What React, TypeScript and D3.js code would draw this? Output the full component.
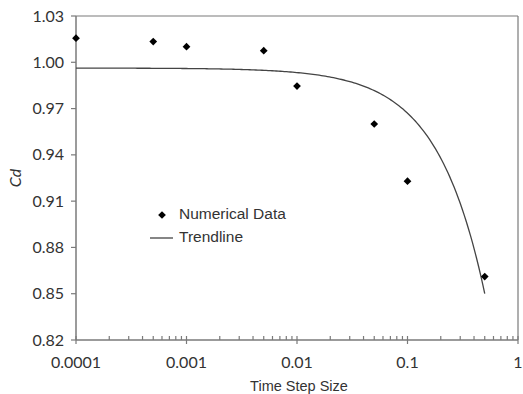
import React from "react";
import * as d3 from "d3";

const stepSizes = [0.0001, 0.0005, 0.001, 0.005, 0.01, 0.05, 0.1, 0.5];
const cdValues = [1.0156, 1.0134, 1.0101, 1.0075, 0.9846, 0.960, 0.9229, 0.8611];
const yTicks = [0.82, 0.85, 0.88, 0.91, 0.94, 0.97, 1.0, 1.03];
const xTicks = [0.0001, 0.001, 0.01, 0.1, 1];
const xTickLabels = ["0.0001", "0.001", "0.01", "0.1", "1"];
const legendLabels = ["Numerical Data", "Trendline"];

const W = 523, H = 394;
const M = { left: 76, right: 518, top: 16, bottom: 340 };

export default function App() {
  const x = d3.scaleLog().domain([0.0001, 1]).range([M.left, M.right]);
  const y = d3.scaleLinear().domain([0.82, 1.03]).range([M.bottom, M.top]);

  // linear least-squares trendline (Excel-style linear trend on linear x)
  const mx = d3.mean(stepSizes)!;
  const my = d3.mean(cdValues)!;
  let sxy = 0, sxx = 0;
  stepSizes.forEach((v, i) => { sxy += (v - mx) * (cdValues[i] - my); sxx += (v - mx) ** 2; });
  const slope = sxy / sxx;
  const intercept = my - slope * mx;
  const trendX = d3.range(0, 201).map(i => Math.pow(10, -4 + (Math.log10(0.5) + 4) * i / 200));
  const line = d3.line<number>().x(d => x(d)).y(d => y(intercept + slope * d));

  const minor: number[] = [];
  for (let e = -4; e < 0; e++) for (let k = 2; k <= 9; k++) minor.push(k * Math.pow(10, e));

  const diamond = d3.symbol().type(d3.symbolSquare).size(30)()!;
  const axisColor = "#7a7a7a";
  const textColor = "#333";

  return (
    <svg width={W} height={H} style={{ position: "absolute", left: 0, top: 0, background: "#fff" }}>
      <rect x={0} y={0} width={W} height={H} fill="#fff" />
      {/* frame */}
      <line x1={M.left} x2={M.right} y1={M.top} y2={M.top} stroke={axisColor} strokeWidth={1.2} />
      <line x1={M.right} x2={M.right} y1={M.top} y2={M.bottom} stroke={axisColor} strokeWidth={1.2} />
      <line x1={M.left} x2={M.left} y1={M.top} y2={M.bottom} stroke={axisColor} strokeWidth={1.5} />
      <line x1={M.left} x2={M.right} y1={M.bottom} y2={M.bottom} stroke={axisColor} strokeWidth={1.5} />
      {/* y ticks */}
      {yTicks.map(t => (
        <g key={t}>
          <line x1={M.left - 5} x2={M.left} y1={y(t)} y2={y(t)} stroke={axisColor} strokeWidth={1.2} />
          <text x={M.left - 12} y={y(t)} dy="0.35em" textAnchor="end" fontFamily="Lato, 'Open Sans', sans-serif" fontSize={16} fill={textColor}>
            {t.toFixed(2)}
          </text>
        </g>
      ))}
      {/* x ticks */}
      {minor.map(t => (
        <line key={t} x1={x(t)} x2={x(t)} y1={M.bottom - 4} y2={M.bottom} stroke={axisColor} strokeWidth={1.2} />
      ))}
      {xTicks.map((t, i) => (
        <g key={t}>
          <line x1={x(t)} x2={x(t)} y1={M.bottom - 4} y2={M.bottom + 4} stroke={axisColor} strokeWidth={1.2} />
          <text x={x(t)} y={M.bottom + 28} textAnchor="middle" fontFamily="Lato, 'Open Sans', sans-serif" fontSize={16} fill={textColor}>
            {xTickLabels[i]}
          </text>
        </g>
      ))}
      {/* axis titles */}
      <text x={299} y={391} textAnchor="middle" fontFamily="'Liberation Sans', Arial, sans-serif" fontSize={14.5} fill={textColor}>
        Time Step Size
      </text>
      <text transform={`translate(21,178) rotate(-90)`} textAnchor="middle" fontFamily="Lato, 'Open Sans', sans-serif" fontSize={16} fontStyle="italic" fill={textColor}>
        Cd
      </text>
      {/* trendline */}
      <path d={line(trendX)!} fill="none" stroke="#444" strokeWidth={1.3} />
      {/* points */}
      {stepSizes.map((s, i) => (
        <path key={s} d={diamond} transform={`translate(${x(s)},${y(cdValues[i])}) rotate(45)`} fill="#000" />
      ))}
      {/* legend */}
      <path d={diamond} transform="translate(162,215) rotate(45)" fill="#000" />
      <text x={179} y={214} dy="0.35em" fontFamily="'Liberation Sans', Arial, sans-serif" fontSize={15.5} fill={textColor}>
        {legendLabels[0]}
      </text>
      <line x1={150} x2={173} y1={238} y2={238} stroke="#444" strokeWidth={1.3} />
      <text x={179} y={237} dy="0.35em" fontFamily="'Liberation Sans', Arial, sans-serif" fontSize={15.5} fill={textColor}>
        {legendLabels[1]}
      </text>
    </svg>
  );
}
